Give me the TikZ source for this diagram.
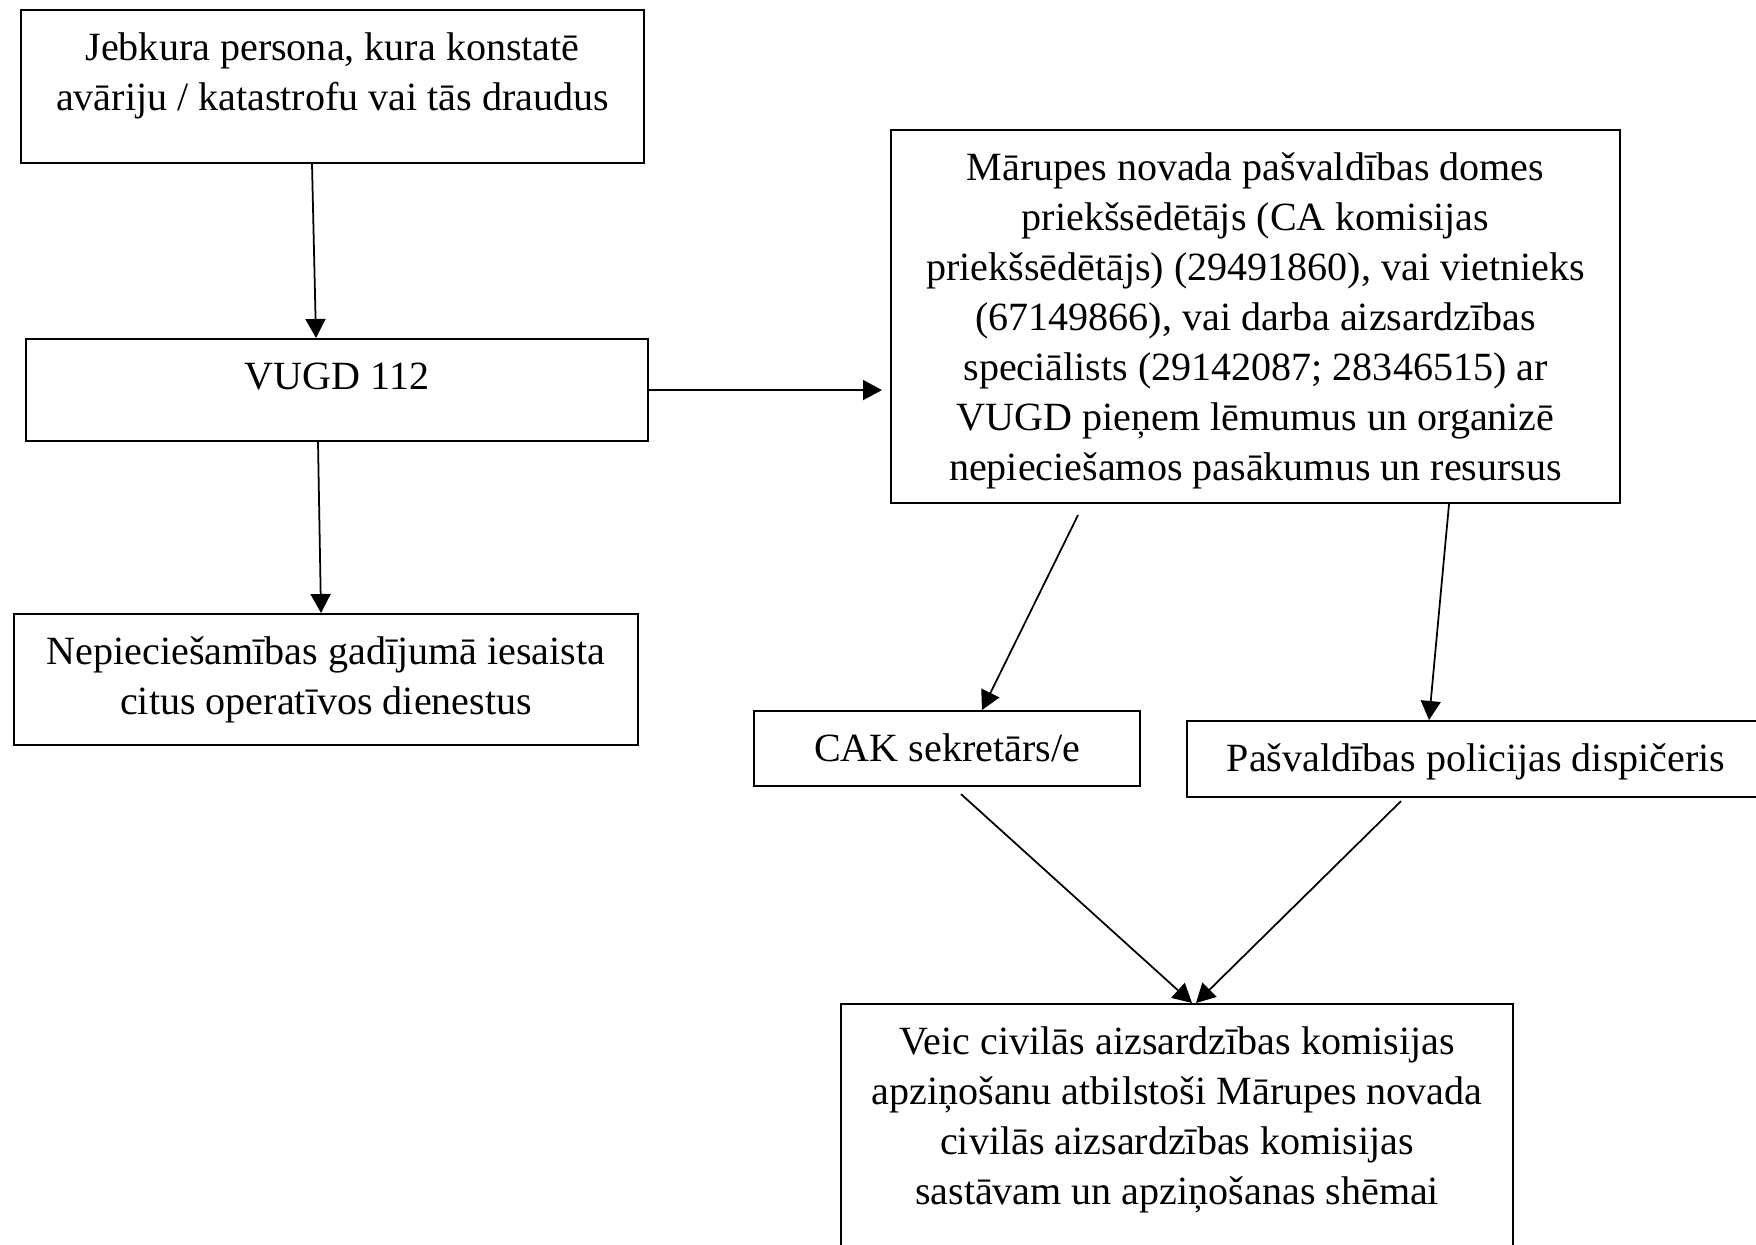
\documentclass[tikz,border=0pt]{standalone}
\usepackage{fontspec}
\setmainfont{Liberation Serif}
\usetikzlibrary{positioning}
\usetikzlibrary{arrows.meta}

\tikzset{
  box/.style={draw, line width=0.6pt, align=center, anchor=north west,
    inner xsep=0pt, inner ysep=0pt,
    font=\fontsize{11.4}{14.2}\selectfont},
  arr/.style={line width=0.5pt, -{Triangle[length=0.19cm,width=0.2cm]}}
}

\begin{document}
\begin{tikzpicture}
 \useasboundingbox (0,0) rectangle (17.56,-12.45);
 % left column
 \node[box, minimum width=6.23cm, text height=1.0cm, text depth=0.53cm] (jeb) at (0.20,-0.09)
   {Jebkura persona, kura konstatē\\avāriju / katastrofu vai tās draudus};
 \node[box, minimum width=6.22cm, text height=0.5cm, text depth=0.52cm] (vugd) at (0.25,-3.38) {VUGD 112};
 \node[box, minimum width=6.24cm, text height=1.0cm, text depth=0.31cm] (nep) at (0.13,-6.13)
   {Nepieciešamības gadījumā iesaista\\citus operatīvos dienestus};
 % right column
 \node[box, minimum width=7.29cm, text height=3.5cm, text depth=0.23cm] (mar) at (8.90,-1.29)
   {Mārupes novada pašvaldības domes\\priekšsēdētājs (CA komisijas\\priekšsēdētājs) (29491860), vai vietnieks\\(67149866), vai darba aizsardzības\\speciālists (29142087; 28346515) ar\\VUGD pieņem lēmumus un organizē\\nepieciešamos pasākumus un resursus};
 \node[box, minimum width=3.86cm, text height=0.5cm, text depth=0.25cm] (cak) at (7.53,-7.10) {CAK sekretārs/e};
 \node[box, minimum width=5.78cm, text height=0.5cm, text depth=0.26cm] (pol) at (11.86,-7.20) {Pašvaldības policijas dispičeris};
 \node[box, minimum width=6.72cm, text height=2.0cm, text depth=0.90cm] (veic) at (8.40,-10.03)
   {Veic civilās aizsardzības komisijas\\apziņošanu atbilstoši Mārupes novada\\civilās aizsardzības komisijas\\sastāvam un apziņošanas shēmai};
 % arrows
 \draw[arr] ([xshift=2.92cm]jeb.south west) -- ([xshift=2.91cm]vugd.north west);
 \draw[arr] ([xshift=2.93cm]vugd.south west) -- ([xshift=3.08cm]nep.north west);
 \draw[arr, shorten >=0.08cm] (vugd.east) -- (vugd.east -| mar.west);
 \draw[arr] ([xshift=1.88cm,yshift=-0.11cm]mar.south west) -- ([xshift=2.29cm]cak.north west);
 \draw[arr] ([xshift=5.59cm]mar.south west) -- ([xshift=2.43cm]pol.north west);
 \draw[arr] ([xshift=2.08cm,yshift=-0.07cm]cak.south west) -- ([xshift=3.52cm]veic.north west);
 \draw[arr] ([xshift=2.15cm,yshift=-0.03cm]pol.south west) -- ([xshift=3.56cm]veic.north west);
\end{tikzpicture}
\end{document}
